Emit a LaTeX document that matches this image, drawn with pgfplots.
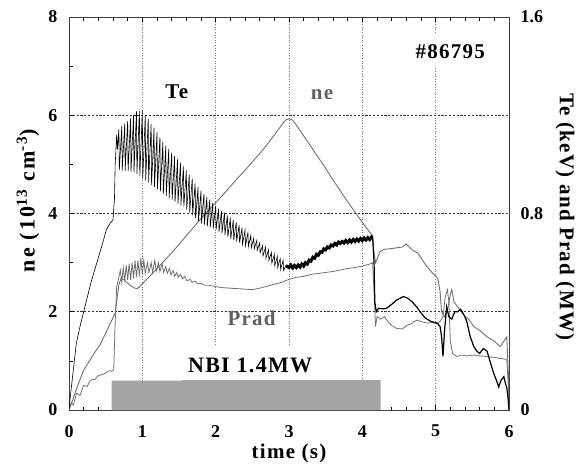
\documentclass[border=0pt]{standalone}
\usepackage{fontspec}
\setmainfont{Liberation Serif}
\newfontfamily\spaced[LetterSpace=6]{Liberation Serif}
\newfontfamily\wide[LetterSpace=10]{Liberation Serif}
\usepackage{pgfplots}
\pgfplotsset{compat=1.18}

\definecolor{curvegray}{RGB}{112,112,112}
\definecolor{labgray}{RGB}{95,95,95}
\definecolor{bargray}{RGB}{165,165,165}
\newcommand\lb{\fontsize{21}{21}\selectfont\bfseries\spaced}

\begin{document}
\begin{tikzpicture}

% left axis: ne
\begin{axis}[%
name=main,
at={(0,0)},
anchor=south west,
scale only axis,
width=440pt,
height=393pt,
xmin=0, xmax=6,
ymin=0, ymax=8,
xtick={0,1,...,6},
ytick={0,2,...,8},
minor x tick num=4,
minor y tick num=1,
xtick pos=both,
ytick pos=left,
tick align=inside,
major tick length=5pt,
minor tick length=3.5pt,
tick style={black, line width=0.7pt},
axis line style={black!75, line width=1pt},
grid=major,
x grid style={black!55, line width=0.6pt, dash pattern=on 1pt off 1.6pt},
y grid style={black!80, line width=0.6pt, dash pattern=on 2.2pt off 1.6pt},
/pgf/number format/assume math mode=true,
tick label style={font=\fontsize{18}{18}\selectfont\bfseries},
xticklabel style={inner sep=1pt, yshift=-14pt},
yticklabel style={xshift=-8pt},
]

% NBI heating window
\addplot [fill=bargray, draw=none] coordinates {
(0.58,0) (0.58,0.6) (1.55,0.6) (1.55,0.61) (4.25,0.61) (4.25,0)
} \closedcycle;

% ne (10^13 cm^-3)
\addplot [color=curvegray, line width=0.9pt] table {
0 0
0.05 0.2
0.1 0.42
0.15 0.62
0.2 0.81
0.25 0.93
0.3 1.05
0.35 1.17
0.42 1.32
0.48 1.5
0.55 1.72
0.6 1.88
0.63 1.97
0.65 2.2
0.68 2.55
0.71 2.68
0.75 2.65
0.8 2.58
0.85 2.52
0.9 2.48
0.93 2.47
0.97 2.52
1.02 2.6
1.1 2.72
1.2 2.88
1.3 3.04
1.4 3.2
1.5 3.37
1.6 3.55
1.7 3.72
1.8 3.9
1.9 4.06
2.0 4.22
2.1 4.38
2.2 4.55
2.3 4.72
2.4 4.88
2.5 5.05
2.6 5.22
2.7 5.4
2.8 5.6
2.9 5.8
2.95 5.9
3.0 5.93
3.05 5.9
3.1 5.8
3.2 5.58
3.3 5.36
3.4 5.14
3.5 4.92
3.6 4.68
3.7 4.46
3.8 4.24
3.9 4.03
4.0 3.82
4.1 3.62
4.14 3.55
4.16 3.2
4.18 3.0
4.24 3.22
4.3 3.27
4.42 3.29
4.55 3.32
4.6 3.38
4.65 3.3
4.7 3.24
4.76 3.19
4.82 3.05
4.88 2.92
4.95 2.8
5.03 2.68
5.06 2.41
5.08 2.0
5.12 1.9
5.17 2.1
5.2 2.35
5.22 2.45
5.25 2.2
5.33 2.04
5.4 1.9
5.45 1.85
5.52 1.7
5.6 1.62
5.7 1.49
5.8 1.4
5.88 1.29
5.93 1.4
5.97 1.49
5.99 0.8
6.0 0
};

% white patches under the annotations
\fill [white] (axis cs:1.6,0.63) rectangle (axis cs:3.4,1.3);
\fill [white] (axis cs:4.65,6.98) rectangle (axis cs:5.75,7.67);

\node [font=\lb] at (axis cs:1.47,6.48) {Te};
\node [font=\lb, text=labgray] at (axis cs:3.45,6.42) {ne};
\node [font=\lb] at (axis cs:5.2,7.3) {\#86795};
\node [font=\lb, text=labgray] at (axis cs:2.49,1.87) {Prad};
\node [font=\fontsize{22}{22}\selectfont\bfseries\spaced] at (axis cs:2.47,0.9) {NBI 1.4MW};
\end{axis}

% right axis: Te (keV) and Prad (MW)
\begin{axis}[%
at={(0,0)},
anchor=south west,
scale only axis,
width=440pt,
height=393pt,
xmin=0, xmax=6,
ymin=0, ymax=1.6,
axis x line=none,
axis y line*=right,
axis line style={black!75, line width=1pt},
ytick={0,0.8,1.6},
major tick length=0pt,
/pgf/number format/assume math mode=true,
tick label style={font=\fontsize{18}{18}\selectfont\bfseries},
yticklabel style={xshift=8pt, /pgf/number format/fixed, /pgf/number format/precision=1},
]

% Prad (MW)
\addplot [color=curvegray, line width=0.8pt] table {
0 0
0.03 0.03
0.06 0.02
0.1 0.068
0.15 0.06
0.2 0.10
0.25 0.096
0.29 0.122
0.35 0.124
0.4 0.14
0.45 0.144
0.5 0.15
0.55 0.16
0.58 0.158
0.61 0.164
0.63 0.36
0.65 0.50
0.68 0.54
0.70 0.57
0.72 0.52
0.74 0.58
0.76 0.524
0.78 0.59
0.80 0.53
0.82 0.596
0.84 0.53
0.86 0.60
0.88 0.536
0.90 0.61
0.92 0.54
0.94 0.61
0.96 0.544
0.98 0.62
1.00 0.55
1.02 0.61
1.04 0.556
1.07 0.60
1.09 0.56
1.12 0.60
1.14 0.56
1.17 0.61
1.19 0.564
1.22 0.60
1.24 0.564
1.27 0.596
1.29 0.56
1.32 0.584
1.34 0.556
1.37 0.576
1.39 0.55
1.42 0.568
1.44 0.544
1.47 0.56
1.49 0.54
1.52 0.552
1.55 0.534
1.58 0.544
1.61 0.526
1.65 0.532
1.68 0.52
1.72 0.524
1.76 0.514
1.80 0.516
1.85 0.508
1.90 0.508
2.0 0.502
2.1 0.498
2.2 0.496
2.3 0.494
2.4 0.492
2.5 0.49
2.6 0.496
2.7 0.504
2.8 0.512
2.9 0.52
3.0 0.532
3.1 0.54
3.2 0.544
3.3 0.552
3.4 0.556
3.5 0.56
3.6 0.564
3.7 0.57
3.8 0.576
3.9 0.58
4.0 0.586
4.1 0.594
4.14 0.60
4.16 0.48
4.18 0.34
4.2 0.38
4.25 0.37
4.3 0.38
4.35 0.36
4.4 0.344
4.47 0.332
4.55 0.33
4.6 0.344
4.66 0.35
4.74 0.366
4.8 0.36
4.88 0.354
4.95 0.356
5.02 0.352
5.06 0.36
5.1 0.38
5.13 0.46
5.16 0.49
5.18 0.44
5.2 0.28
5.23 0.23
5.29 0.218
5.35 0.224
5.42 0.22
5.52 0.224
5.6 0.22
5.7 0.218
5.8 0.214
5.88 0.21
5.97 0.206
5.99 0.10
6.0 0
};

% Te (keV): ohmic rise and sawtoothing phase
\addplot [color=black, line width=0.6pt] table {
0 0
0.02 0.06
0.05 0.14
0.1 0.272
0.15 0.34
0.2 0.40
0.25 0.46
0.3 0.52
0.38 0.60
0.45 0.67
0.51 0.734
0.56 0.76
0.6 0.774
0.62 0.86
0.63 1.0
0.65 1.12
0.66 1.06
0.68 1.144
0.686 0.978
0.72 1.156
0.726 0.976
0.76 1.166
0.766 0.974
0.80 1.176
0.806 0.972
0.84 1.188
0.846 0.972
0.88 1.200
0.886 0.970
0.92 1.216
0.926 0.960
0.96 1.218
0.966 0.952
1.00 1.220
1.006 0.944
1.04 1.200
1.046 0.934
1.08 1.184
1.086 0.926
1.12 1.166
1.126 0.916
1.16 1.150
1.166 0.908
1.20 1.130
1.206 0.898
1.24 1.112
1.246 0.890
1.28 1.094
1.286 0.880
1.32 1.076
1.326 0.872
1.36 1.062
1.366 0.862
1.40 1.048
1.406 0.856
1.44 1.034
1.446 0.848
1.48 1.020
1.486 0.840
1.52 1.006
1.526 0.832
1.56 0.992
1.566 0.828
1.60 0.976
1.606 0.816
1.64 0.958
1.646 0.804
1.68 0.942
1.686 0.792
1.72 0.924
1.726 0.780
1.76 0.908
1.766 0.770
1.80 0.892
1.806 0.760
1.84 0.880
1.846 0.754
1.88 0.868
1.886 0.748
1.92 0.856
1.926 0.744
1.96 0.842
1.966 0.738
2.00 0.830
2.006 0.734
2.04 0.820
2.046 0.726
2.08 0.812
2.086 0.720
2.12 0.802
2.126 0.712
2.16 0.792
2.166 0.704
2.20 0.784
2.206 0.698
2.24 0.774
2.246 0.692
2.28 0.764
2.286 0.686
2.32 0.754
2.326 0.682
2.36 0.742
2.366 0.676
2.40 0.732
2.406 0.670
2.44 0.722
2.446 0.666
2.48 0.712
2.486 0.660
2.52 0.700
2.526 0.656
2.56 0.690
2.566 0.650
2.60 0.680
2.606 0.640
2.64 0.670
2.646 0.628
2.68 0.662
2.686 0.618
2.72 0.652
2.726 0.608
2.76 0.642
2.766 0.598
2.80 0.634
2.806 0.588
2.84 0.624
2.846 0.580
2.88 0.616
2.886 0.572
2.92 0.610
2.926 0.568
2.96 0.590
};

% Te (keV): noisy plateau before the collapse
\addplot [color=black, line width=3pt] table {
2.96 0.588
3.00 0.580
3.025 0.590
3.05 0.578
3.075 0.588
3.10 0.580
3.125 0.590
3.15 0.582
3.175 0.594
3.20 0.586
3.225 0.600
3.25 0.594
3.275 0.610
3.30 0.606
3.325 0.622
3.35 0.618
3.375 0.634
3.40 0.630
3.425 0.644
3.45 0.642
3.475 0.656
3.50 0.652
3.525 0.664
3.55 0.660
3.575 0.672
3.60 0.668
3.625 0.678
3.65 0.672
3.675 0.684
3.70 0.678
3.725 0.686
3.75 0.680
3.775 0.690
3.80 0.682
3.825 0.692
3.85 0.684
3.875 0.694
3.90 0.686
3.925 0.696
3.95 0.688
3.975 0.698
4.00 0.690
4.025 0.700
4.05 0.692
4.075 0.702
4.10 0.694
4.125 0.704
4.14 0.700
};

% Te (keV): after NBI switch-off
\addplot [color=black, line width=1.2pt] table {
4.14 0.700
4.16 0.60
4.17 0.44
4.19 0.40
4.22 0.414
4.28 0.412
4.33 0.414
4.40 0.43
4.47 0.448
4.56 0.462
4.62 0.455
4.68 0.44
4.74 0.42
4.80 0.395
4.86 0.374
4.94 0.36
5.02 0.354
5.06 0.34
5.08 0.30
5.10 0.218
5.12 0.32
5.15 0.42
5.18 0.38
5.22 0.37
5.26 0.40
5.30 0.40
5.34 0.41
5.38 0.39
5.42 0.366
5.47 0.30
5.52 0.258
5.56 0.24
5.60 0.23
5.65 0.25
5.70 0.24
5.75 0.19
5.79 0.15
5.83 0.12
5.86 0.094
5.89 0.12
5.93 0.136
5.95 0.11
5.97 0.09
5.99 0.04
6.0 0.0
};
\end{axis}

\node [font=\lb, inner sep=0pt] at ([yshift=-43.5pt]main.south) {time (s)};
\node [font=\fontsize{22}{22}\selectfont\bfseries\wide, rotate=90] at ([xshift=-41pt, yshift=13pt]main.west) {ne (10\textsuperscript{13} cm\textsuperscript{-3})};
\node [font=\lb, rotate=-90] at ([xshift=56pt, yshift=-3.5pt]main.east) {Te (keV) and Prad (MW)};

\pgfresetboundingbox
\path (-69pt,-54pt) rectangle (516pt,410pt);
\end{tikzpicture}
\end{document}
